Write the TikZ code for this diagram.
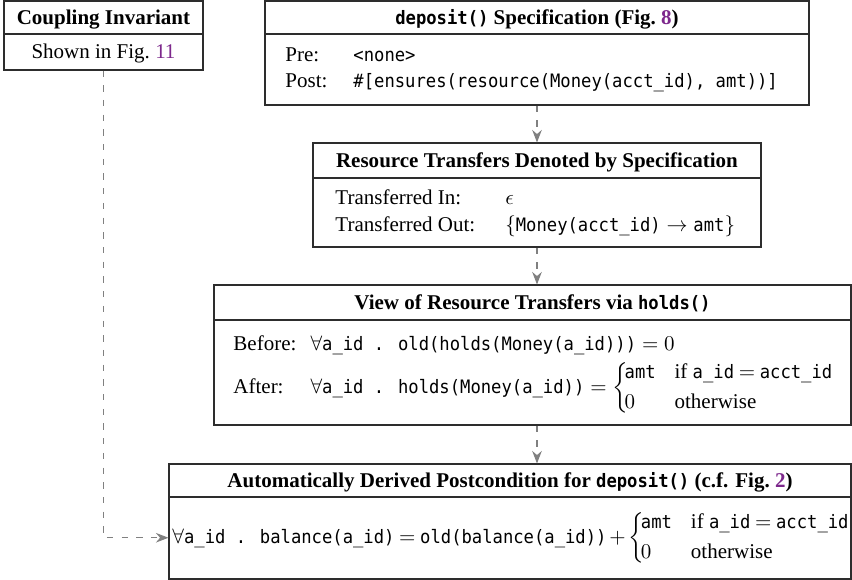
\documentclass[tikz,border=0pt]{standalone}
\usepackage{amsmath}
\usepackage{fontspec}
\setmainfont{Liberation Serif}
\newfontfamily\codefont{DejaVu Sans Mono}[Scale=0.88,FakeStretch=0.93]
\usetikzlibrary{arrows.meta,fit,calc}
\definecolor{linkpurple}{RGB}{125,40,140}
\definecolor{flowgray}{RGB}{128,128,128}
\definecolor{boxline}{RGB}{45,45,45}
\newcommand\code[1]{\text{\codefont #1}}
\newcommand\eqq{\mathrel{\mskip-1mu=\mskip-1mu}}
\newcommand\amtchoice{\biggl\{\!\renewcommand\arraystretch{1.2}\begin{array}{@{}l@{\hspace{0.9em}}l@{}}\code{amt} & \text{if }\code{a\_id} \eqq \code{acct\_id}\\ 0 & \text{otherwise}\end{array}}
\begin{document}
\begin{tikzpicture}[x=0.476pt,y=-0.476pt,
  box/.style={draw=boxline, line width=0.5pt, inner sep=0pt},
  divider/.style={draw=boxline, line width=0.5pt},
  flow/.style={draw=flowgray, line width=0.55pt, dash pattern=on 3pt off 4pt,
    -{Stealth[length=6pt,width=4.6pt,inset=2pt]}},
  head/.style={anchor=base, inner sep=0pt, font=\bfseries},
  row/.style={anchor=base west, inner sep=0pt}]
\useasboundingbox (0,0) rectangle (852,580);

% Coupling invariant
\node[box, fit={(4,1) (203,70)}] (coup) {};
\node[head] (couphead) at (103.5,24) {Coupling Invariant};
\draw[divider] (coup.west |- 0,34) -- (coup.east |- 0,34);
\node[anchor=base, inner sep=0pt] (coupbody) at (103.5,58.5) {Shown in Fig.~{\color{linkpurple}11}};

% deposit() specification
\node[box, fit={(265,1) (809,105)}] (dep) {};
\node[head] (dephead) at (537,24) {{\codefont\bfseries deposit()} Specification (Fig.~{\color{linkpurple}8})};
\draw[divider] (dep.west |- 0,34) -- (dep.east |- 0,34);
\node[row] (deppre) at (285,61) {\makebox[32.4pt][l]{Pre:}{\codefont <none>}};
\node[row] (deppost) at (285,87) {\makebox[32.4pt][l]{Post:}{\codefont \#[ensures(resource(Money(acct\_id), amt))]}};

% Resource transfers
\node[box, fit={(313,143) (761,247)}] (res) {};
\node[head] (reshead) at (537,167) {Resource Transfers Denoted by Specification};
\draw[divider] (res.west |- 0,178) -- (res.east |- 0,178);
\node[row] (resin) at (335,204) {\makebox[80.9pt][l]{Transferred In:}$\epsilon$};
\node[row] (resout) at (335,231) {\makebox[80.9pt][l]{Transferred Out:}$\{\code{Money(acct\_id)} \rightarrow \code{amt}\}$};

% View via holds()
\node[box, fit={(214,285) (851,425)}] (view) {};
\node[head] (viewhead) at (532.5,309) {View of Resource Transfers via {\codefont\bfseries holds()}};
\draw[divider] (view.west |- 0,320) -- (view.east |- 0,320);
\node[row] (viewbefore) at (233,350) {\makebox[36.7pt][l]{Before:}$\forall\code{a\_id . old(holds(Money(a\_id)))} = 0$};
\node[row] (viewafter) at (233,393) {\makebox[36.7pt][l]{After:}$\forall\code{a\_id . holds(Money(a\_id))} = \amtchoice$};

% Automatically derived postcondition
\node[box, fit={(169,464) (851,579)}] (auto) {};
\node[head] (autohead) at (510,487) {Automatically Derived Postcondition for {\codefont deposit()} (c.f. Fig.~{\color{linkpurple}2})};
\draw[divider] (auto.west |- 0,497) -- (auto.east |- 0,497);
\node[row] (autoform) at (172,543) {$\forall\code{a\_id . balance(a\_id)} \eqq \code{old(balance(a\_id))} \mathbin{\mskip-1.5mu+\mskip-1.5mu} \amtchoice$};

% connectors
\draw[flow] (dep.south) -- (res.north);
\draw[flow] (res.south) -- (res.south |- view.north);
\draw[flow] (view.south -| dep.south) -- (auto.north -| dep.south);
\draw[flow] (coup.south) |- (autoform.west -| auto.west);
\end{tikzpicture}
\end{document}
